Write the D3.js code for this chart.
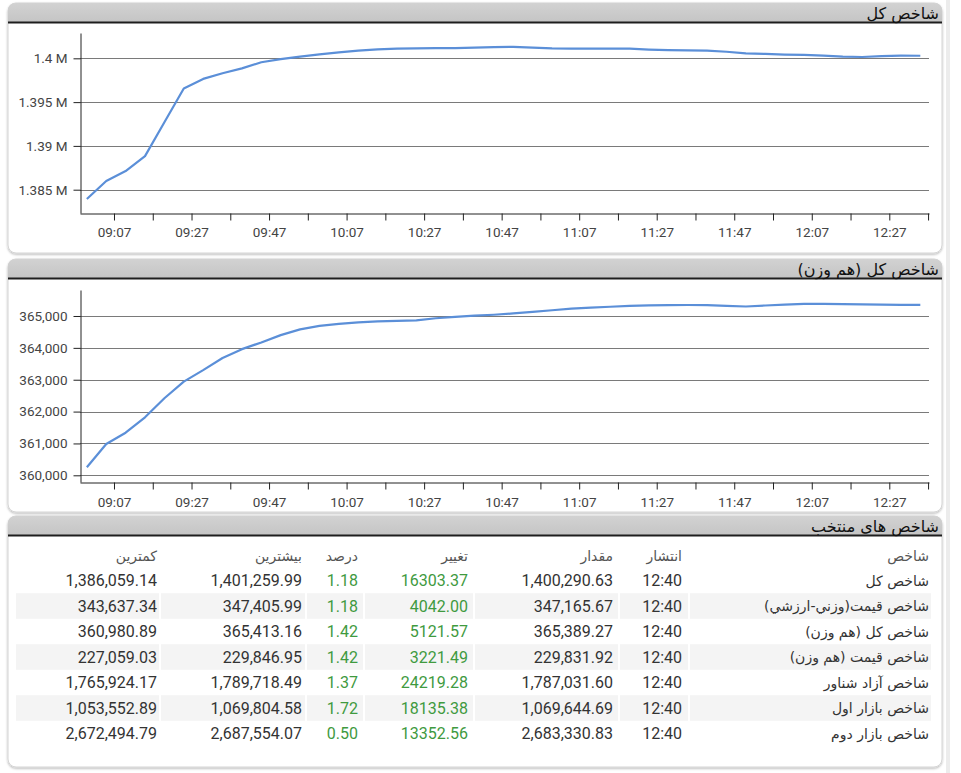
<!DOCTYPE html>
<html><head><meta charset="utf-8">
<script src="https://cdn.jsdelivr.net/npm/d3@7"></script>
<style>body{margin:0;background:#fff}svg{display:block}</style>
</head><body><svg id="c" width="961" height="773"></svg>
<script>
// ---------- data ----------
const times = ["09:00","09:05","09:10","09:15","09:20","09:25","09:30","09:35","09:40","09:45","09:50","09:55",
"10:00","10:05","10:10","10:15","10:20","10:25","10:30","10:35","10:40","10:45","10:50","10:55",
"11:00","11:05","11:10","11:15","11:20","11:25","11:30","11:35","11:40","11:45","11:50","11:55",
"12:00","12:05","12:10","12:15","12:20","12:25","12:30","12:35"];
const totalIndex = [1383940,1385990,1387130,1388830,1392700,1396560,1397650,1398300,1398850,1399550,1399900,1400200,
1400450,1400680,1400880,1401020,1401100,1401140,1401160,1401170,1401220,1401280,1401300,1401220,
1401140,1401110,1401100,1401100,1401100,1401000,1400930,1400900,1400870,1400750,1400570,1400500,
1400430,1400390,1400300,1400190,1400150,1400250,1400300,1400290];
const equalWeightIndex = [360251,360983,361337,361821,362418,362940,363300,363680,363960,364170,364400,364580,
364690,364750,364800,364830,364845,364860,364930,364975,365010,365040,365080,365130,
365180,365230,365260,365290,365320,365335,365342,365345,365342,365320,365298,365330,
365360,365380,365382,365375,365365,365355,365352,365352];
const xTickLabels = ["09:07","09:17","09:27","09:37","09:47","09:57","10:07","10:17","10:27","10:37","10:47","10:57",
"11:07","11:17","11:27","11:37","11:47","11:57","12:07","12:17","12:27","12:37"];
const yTicksTotal = [1385000,1390000,1395000,1400000];
const yTicksEqual = [360000,361000,362000,363000,364000,365000];
const panelTitles = ["شاخص کل","شاخص کل (هم وزن)","شاخص های منتخب"];

const tableHeaders = ["شاخص","انتشار","مقدار","تغییر","درصد","بیشترین","کمترین"];
const indexNames = ["شاخص کل","شاخص قیمت(وزني-ارزشي)","شاخص کل (هم وزن)","شاخص قیمت (هم وزن)","شاخص آزاد شناور","شاخص بازار اول","شاخص بازار دوم"];
const publishTimes = ["12:40","12:40","12:40","12:40","12:40","12:40","12:40"];
const indexValues = [1400290.63,347165.67,365389.27,229831.92,1787031.60,1069644.69,2683330.83];
const changes = [16303.37,4042.00,5121.57,3221.49,24219.28,18135.38,13352.56];
const percents = [1.18,1.18,1.42,1.42,1.37,1.72,0.50];
const highs = [1401259.99,347405.99,365413.16,229846.95,1789718.49,1069804.58,2687554.07];
const lows = [1386059.14,343637.34,360980.89,227059.03,1765924.17,1053552.89,2672494.79];

// ---------- drawing ----------
const svg = d3.select("#c");
const NUMF = "Roboto, 'DejaVu Sans', sans-serif";
const FAF = "'DejaVu Sans', Roboto, sans-serif";
const defs = svg.append("defs");
const f = defs.append("filter").attr("id","sh").attr("x","-5%").attr("y","-5%").attr("width","110%").attr("height","115%");
f.append("feDropShadow").attr("dx",0).attr("dy",1.2).attr("stdDeviation",1.2).attr("flood-color","#000").attr("flood-opacity",0.28);
const hg = defs.append("linearGradient").attr("id","hg").attr("x1",0).attr("y1",0).attr("x2",0).attr("y2",1);
hg.append("stop").attr("offset","0%").attr("stop-color","#d2d2d2");
hg.append("stop").attr("offset","100%").attr("stop-color","#c4c4c4");

svg.append("rect").attr("x",946).attr("y",0).attr("width",4).attr("height",773).attr("fill","#ececec");

function panel(y, h, title) {
  const x0 = 8, x1 = 942, hh = 20, r = 8;
  const g = svg.append("g");
  g.append("rect").attr("x",x0).attr("y",y).attr("width",x1-x0).attr("height",h).attr("rx",r)
    .attr("fill","#fff").attr("stroke","#d4d4d4").attr("filter","url(#sh)");
  g.append("path").attr("d",`M${x0},${y+hh} V${y+r} Q${x0},${y} ${x0+r},${y} H${x1-r} Q${x1},${y} ${x1},${y+r} V${y+hh} Z`)
    .attr("fill","url(#hg)");
  g.append("line").attr("x1",x0).attr("x2",x1).attr("y1",y+hh-0.5).attr("y2",y+hh-0.5).attr("stroke","#1e1e1e").attr("stroke-width",2);
  g.append("text").attr("x",939).attr("y",y+16).attr("direction","rtl").attr("text-anchor","start")
    .attr("font-family",FAF).attr("font-size",16).attr("fill","#111").text(title);
}
panel(3,250,panelTitles[0]);
panel(259,253,panelTitles[1]);
panel(516,251,panelTitles[2]);

const toMin = s => { const [h,m] = s.split(":").map(Number); return h*60+m; };
const x = d3.scaleLinear().domain([538.23,757.24]).range([80,929]);

function chart(values, yDomain, yTop, yBottom, yTicks, fmt, labelPad) {
  const y = d3.scaleLinear().domain(yDomain).range([yBottom,yTop]);
  const g = svg.append("g");
  g.selectAll("line.grid").data(yTicks).join("line").attr("class","grid")
    .attr("x1",80).attr("x2",929).attr("y1",d=>Math.round(y(d))+0.5).attr("y2",d=>Math.round(y(d))+0.5)
    .attr("stroke","#7a7a7a").attr("stroke-width",1);
  const ya = g.append("g").attr("transform","translate(80.5,0)")
    .call(d3.axisLeft(y).tickValues(yTicks).tickFormat(fmt).tickSize(7).tickPadding(6).tickSizeOuter(0));
  ya.select(".domain").attr("stroke","#222");
  ya.selectAll(".tick line").attr("stroke","#222");
  ya.selectAll("text").attr("font-family",NUMF).attr("font-size",13.5).attr("fill","#444");
  const xa = g.append("g").attr("transform",`translate(0,${yBottom+0.5})`)
    .call(d3.axisBottom(x).tickValues(xTickLabels.map(toMin)).tickSize(7).tickPadding(labelPad).tickSizeOuter(0)
      .tickFormat((d,i)=> i%2===0 ? xTickLabels[i] : ""));
  xa.select(".domain").attr("stroke","#222");
  xa.selectAll(".tick line").attr("stroke","#222");
  xa.selectAll("text").attr("font-family",NUMF).attr("font-size",13.5).attr("fill","#444");
  const line = d3.line().x((d,i)=>x(toMin(times[i]))).y(d=>y(d));
  g.append("path").datum(values).attr("d",line).attr("fill","none")
    .attr("stroke","#5b8fd8").attr("stroke-width",2.2).attr("stroke-linejoin","round");
}
chart(totalIndex,[1382340,1402890],33,213,yTicksTotal,d=>(d/1e6)+" M",7);
chart(equalWeightIndex,[359790,365816],290,482,yTicksEqual,d3.format(","),8);

// ---------- table ----------
const cols = [
  {l:690,r:931,t:929},
  {l:620,r:688,t:682},
  {l:475,r:618,t:613},
  {l:365,r:473,t:468},
  {l:307,r:363,t:358},
  {l:161,r:305,t:302},
  {l:16,r:159,t:157}
];
const f2 = d3.format(",.2f"), p2 = d3.format(".2f");
const rowsData = indexNames.map((n,i)=>[n,publishTimes[i],f2(indexValues[i]),p2(changes[i]),p2(percents[i]),f2(highs[i]),f2(lows[i])]);
const rowY0 = 580.5, rowH = 25.5;
const tg = svg.append("g");
rowsData.forEach((row,i)=>{
  const cy = rowY0 + i*rowH;
  if (i%2===1) cols.forEach(c=>tg.append("rect").attr("x",c.l).attr("y",cy-rowH/2).attr("width",c.r-c.l).attr("height",rowH).attr("fill","#f4f4f4"));
});
tableHeaders.forEach((h,j)=>{
  tg.append("text").attr("x",cols[j].t).attr("y",556).attr("direction","rtl").attr("text-anchor","start")
    .attr("dominant-baseline","central").attr("font-family",FAF).attr("font-size",14).attr("fill","#555").text(h);
});
rowsData.forEach((row,i)=>{
  const cy = rowY0 + i*rowH;
  row.forEach((v,j)=>{
    const t = tg.append("text").attr("y",cy).attr("dominant-baseline","central").attr("x",cols[j].t);
    if (j===0) t.attr("direction","rtl").attr("text-anchor","start").attr("font-family",FAF).attr("font-size",14).attr("fill","#333");
    else t.attr("text-anchor","end").attr("font-family",NUMF).attr("font-size",16)
      .attr("fill", (j===3||j===4) ? "#3f9a3f" : "#333");
    t.text(v);
  });
});
</script></body></html>
